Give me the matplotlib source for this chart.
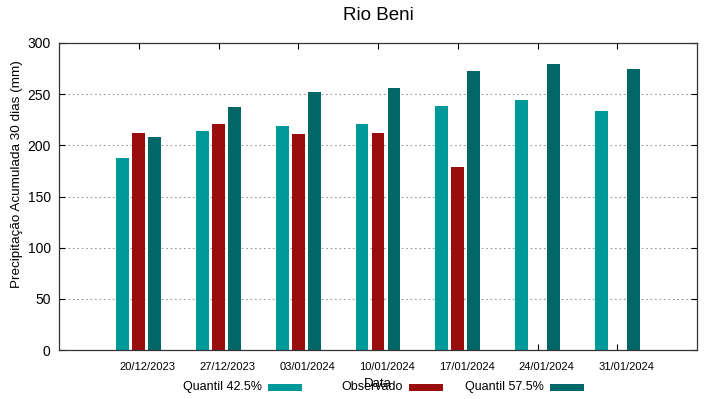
import matplotlib
matplotlib.use("Agg")
import matplotlib.pyplot as plt
import matplotlib.patches as patches
import matplotlib.transforms as mtransforms
import numpy as np

plt.rcParams['font.family'] = ['Liberation Sans', 'DejaVu Sans']

# --- data ---
datas = ["20/12/2023", "27/12/2023", "03/01/2024", "10/01/2024",
         "17/01/2024", "24/01/2024", "31/01/2024"]
quantil_425 = [187.5, 214, 219, 221, 238, 244.5, 234]
observado = [212.5, 221, 211, 212.5, 179, np.nan, np.nan]
quantil_575 = [208.5, 237.5, 252, 256.5, 272.5, 279.5, 274.5]

series_names = ["Quantil 42.5%", "Observado", "Quantil 57.5%"]
colors = ["#009999", "#990d0d", "#006666"]

W, H = 719, 399
fig = plt.figure(figsize=(W / 100, H / 100), dpi=100)
ax = fig.add_axes([59 / W, 1 - 350 / H, 638 / W, 307 / H])

x = np.arange(len(datas))
bar_w = 0.16
step = 0.2
for i, vals in enumerate([quantil_425, observado, quantil_575]):
    ax.bar(x + (i - 1) * step, vals, width=bar_w, color=colors[i], zorder=2)

ax.set_xlim(-1, 7)
ax.set_ylim(0, 300)
ax.set_yticks(np.arange(0, 301, 50))
ax.set_xticks(x)
ax.set_xticklabels(datas, fontsize=8)
ax.tick_params(axis='both', direction='in', length=4, width=0.8,
               top=True, right=True)
ax.tick_params(axis='x', pad=9)
ax.tick_params(axis='y', labelsize=10, pad=6)

# shift date labels slightly right, as in the original
offset = mtransforms.ScaledTranslation(9 / 100, 0, fig.dpi_scale_trans)
for lbl in ax.get_xticklabels():
    lbl.set_transform(lbl.get_transform() + offset)

ax.yaxis.grid(True, linestyle=(0, (1.5, 2.5)), color='#999999', linewidth=0.8, zorder=0)
for sp in ax.spines.values():
    sp.set_linewidth(0.9)
    sp.set_color('#333333')

ax.set_ylabel("Precipitação Acumulada 30 dias (mm)", fontsize=9.7)
ax.yaxis.set_label_coords(-0.056, 0.573)
ax.set_xlabel("Data", fontsize=9.5, labelpad=0)
ax.xaxis.set_label_coords(0.5, -0.09)

fig.text(378 / W, 1 - 16 / H, "Rio Beni", ha='center', va='center', fontsize=13.5)

# --- legend, gnuplot style: text then colour sample ---
for i, name in enumerate(series_names):
    sw_x0 = 268 + 141 * i
    fig.text((sw_x0 - 6) / W, 1 - 387 / H, name, ha='right', va='center', fontsize=9)
    rect = patches.Rectangle((sw_x0 / W, 1 - 391 / H), 34 / W, 7 / H,
                             transform=fig.transFigure, facecolor=colors[i],
                             edgecolor='none')
    fig.patches.append(rect)

fig.savefig("out.png", dpi=100)
